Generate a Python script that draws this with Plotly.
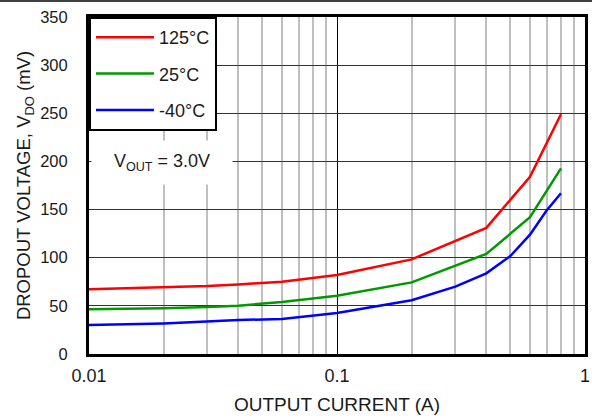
import plotly.graph_objects as go

# Dropout voltage vs output current, V_OUT = 3.0 V
current_a = [0.01, 0.02, 0.03, 0.04, 0.06, 0.1, 0.2, 0.4, 0.6, 0.8]
vdo_125c = [67.2, 68.9, 70.6, 72.3, 75.0, 82.0, 98.3, 131.0, 184.0, 249.0]
vdo_25c = [46.4, 47.4, 48.8, 50.2, 54.0, 60.5, 74.4, 104.0, 142.0, 192.8]

current_cold = [0.01, 0.02, 0.04, 0.06, 0.1, 0.2, 0.3, 0.4, 0.5, 0.6, 0.7, 0.8]
vdo_m40c = [30.0, 31.8, 35.3, 36.3, 42.5, 55.8, 70.0, 83.8, 101.8, 124.0, 149.0, 167.0]

series = [
    ("125°C", current_a, vdo_125c, "#ff0000"),
    ("25°C", current_a, vdo_25c, "#009900"),
    ("-40°C", current_cold, vdo_m40c, "#0000ff"),
]

y_ticks = [0, 50, 100, 150, 200, 250, 300, 350]
x_ticks = [0.01, 0.1, 1]
x_tick_text = ["0.01", "0.1", "1"]
x_minor = [m * d for d in (0.01, 0.1) for m in range(2, 10)]

FONT = "Arial, Liberation Sans, sans-serif"
INK = "#1a1a1a"

fig = go.Figure()
for name, xs, ys, color in series:
    fig.add_trace(go.Scatter(
        x=xs, y=ys, name=name, mode="lines",
        legendgroup=name,
        line=dict(color=color, width=2.5),
    ))

fig.update_layout(
    width=592, height=419,
    margin=dict(l=89, r=7, t=17, b=65, autoexpand=False),
    paper_bgcolor="white", plot_bgcolor="white",
    font=dict(family=FONT, size=16, color=INK),
    showlegend=True,
    legend=dict(
        x=0, y=1, xanchor="left", yanchor="top",
        bgcolor="white", bordercolor="black", borderwidth=2,
        font=dict(family=FONT, size=18, color=INK),
        tracegroupgap=10, traceorder="grouped",
        itemwidth=58,
    ),
    xaxis=dict(
        type="log", range=[-2, 0], automargin=False,
        tickvals=x_ticks, ticktext=x_tick_text,
        tickfont=dict(size=18),
        showgrid=True, gridcolor="black", gridwidth=1,
        minor=dict(tickvals=x_minor, showgrid=True,
                   gridcolor="#c0c0c0", gridwidth=2),
        showline=True, mirror=True, linecolor="black", linewidth=3,
        ticks="", ticklabelstandoff=3,
        title=dict(text="OUTPUT CURRENT (A)", standoff=14,
                   font=dict(size=19)),
        zeroline=False,
    ),
    yaxis=dict(
        range=[0, 350], tickvals=y_ticks, automargin=False,
        tickfont=dict(size=16.5),
        showgrid=True, gridcolor="#333333", gridwidth=1.2,
        showline=True, mirror=True, linecolor="black", linewidth=3,
        ticks="", ticklabelstandoff=15,
        title=dict(text="DROPOUT VOLTAGE, V<sub>DO</sub> (mV)",
                   standoff=5, font=dict(size=18.5)),
        zeroline=False,
    ),
)

# Condition label on a white panel
fig.add_annotation(
    xref="paper", yref="y", x=0.005, y=199,
    xanchor="left", yanchor="middle",
    text="V<sub>OUT</sub> = 3.0V", showarrow=False,
    width=138, height=41, bgcolor="white", align="center",
    font=dict(family=FONT, size=18, color=INK),
)

# Rule across the top of the page
fig.add_shape(
    type="line", xref="paper", yref="paper",
    x0=-0.2, x1=1.02, y0=1 + 16 / 337, y1=1 + 16 / 337,
    line=dict(color="black", width=1.5),
)

fig.write_html("out.html")
